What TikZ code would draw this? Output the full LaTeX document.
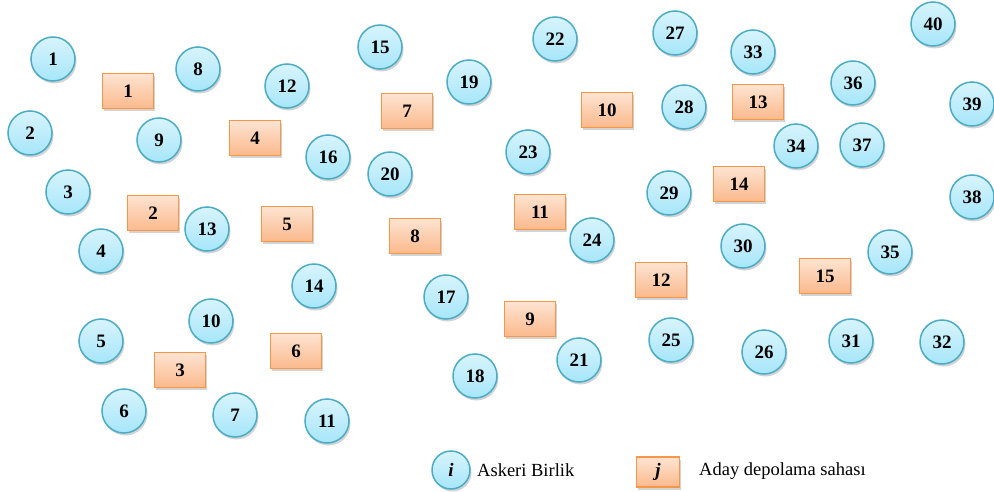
\documentclass[tikz,border=0pt]{standalone}
\usepackage{fontspec}
\setmainfont{Liberation Serif}
\usetikzlibrary{shadows}
\definecolor{cbord}{HTML}{4BACC6}
\definecolor{ctop}{HTML}{D8F4FC}
\definecolor{cbot}{HTML}{A6E6FA}
\definecolor{bbord}{HTML}{F79646}
\definecolor{btop}{HTML}{FDE4D2}
\definecolor{bbot}{HTML}{FBB98C}
\tikzset{
  unit/.style={circle, draw=cbord, line width=1.5pt, top color=ctop, bottom color=cbot,
    minimum size=44pt, inner sep=0pt, font=\fontsize{19}{19}\selectfont\bfseries,
    drop shadow={opacity=0.35, shadow xshift=1.5pt, shadow yshift=-2.5pt}},
  site/.style={rectangle, draw=bbord, line width=1.5pt, top color=btop, bottom color=bbot,
    minimum width=51pt, minimum height=35pt, inner sep=0pt, font=\fontsize{19}{19}\selectfont\bfseries,
    drop shadow={opacity=0.35, shadow xshift=1.5pt, shadow yshift=-2.5pt}},
  legtext/.style={font=\fontsize{18.5}{18.5}\selectfont, anchor=west, inner sep=0pt}
}
\begin{document}
\begin{tikzpicture}[x=1pt,y=-1pt]
\useasboundingbox (0,0) rectangle (994,492);
% units
\node[unit] (u1) at (53,59) {1};
\node[unit] (u2) at (30,133) {2};
\node[unit] (u3) at (68,192) {3};
\node[unit] (u4) at (101,251) {4};
\node[unit] (u5) at (101,341) {5};
\node[unit] (u6) at (124,411) {6};
\node[unit] (u7) at (235,415) {7};
\node[unit] (u8) at (198,69) {8};
\node[unit] (u9) at (159,140) {9};
\node[unit] (u10) at (211,321) {10};
\node[unit] (u11) at (327,421) {11};
\node[unit] (u12) at (287,86) {12};
\node[unit] (u13) at (207,229) {13};
\node[unit] (u14) at (314,286) {14};
\node[unit] (u15) at (380,47) {15};
\node[unit] (u16) at (328,157) {16};
\node[unit] (u17) at (446,297) {17};
\node[unit] (u18) at (475,376) {18};
\node[unit] (u19) at (469,82) {19};
\node[unit] (u20) at (390,174) {20};
\node[unit] (u21) at (579,360) {21};
\node[unit] (u22) at (555,39) {22};
\node[unit] (u23) at (528,152) {23};
\node[unit] (u24) at (592,240) {24};
\node[unit] (u25) at (671,340) {25};
\node[unit] (u26) at (764,352) {26};
\node[unit] (u27) at (675,33) {27};
\node[unit] (u28) at (684,107) {28};
\node[unit] (u29) at (669,193) {29};
\node[unit] (u30) at (743,246) {30};
\node[unit] (u31) at (851,341) {31};
\node[unit] (u32) at (942,342) {32};
\node[unit] (u33) at (753,52) {33};
\node[unit] (u34) at (796,146) {34};
\node[unit] (u35) at (890,252) {35};
\node[unit] (u36) at (853,83) {36};
\node[unit] (u37) at (862,145) {37};
\node[unit] (u38) at (972,197) {38};
\node[unit] (u39) at (972,104) {39};
\node[unit] (u40) at (933,24) {40};
% candidate sites
\node[site] (s1) at (128,91) {1};
\node[site] (s2) at (153,213) {2};
\node[site] (s3) at (180,370) {3};
\node[site] (s4) at (255,138) {4};
\node[site] (s5) at (287,224) {5};
\node[site] (s6) at (296,351) {6};
\node[site] (s7) at (407,111) {7};
\node[site] (s8) at (415,236) {8};
\node[site] (s9) at (530,319) {9};
\node[site] (s10) at (607,110) {10};
\node[site] (s11) at (540,212) {11};
\node[site] (s12) at (661,280) {12};
\node[site] (s13) at (758,102) {13};
\node[site] (s14) at (739,184) {14};
\node[site] (s15) at (825,276) {15};
% legend
\node[unit, minimum size=38pt, font=\fontsize{19}{19}\selectfont\bfseries\itshape] (li) at (451,470) {i};
\node[legtext] (lt1) at (477,470) {Askeri Birlik};
\node[site, minimum width=43pt, minimum height=30pt, font=\fontsize{19}{19}\selectfont\bfseries\itshape] (lj) at (658,472) {j};
\node[legtext] (lt2) at (699,471) {Aday depolama sahası};
\end{tikzpicture}
\end{document}
